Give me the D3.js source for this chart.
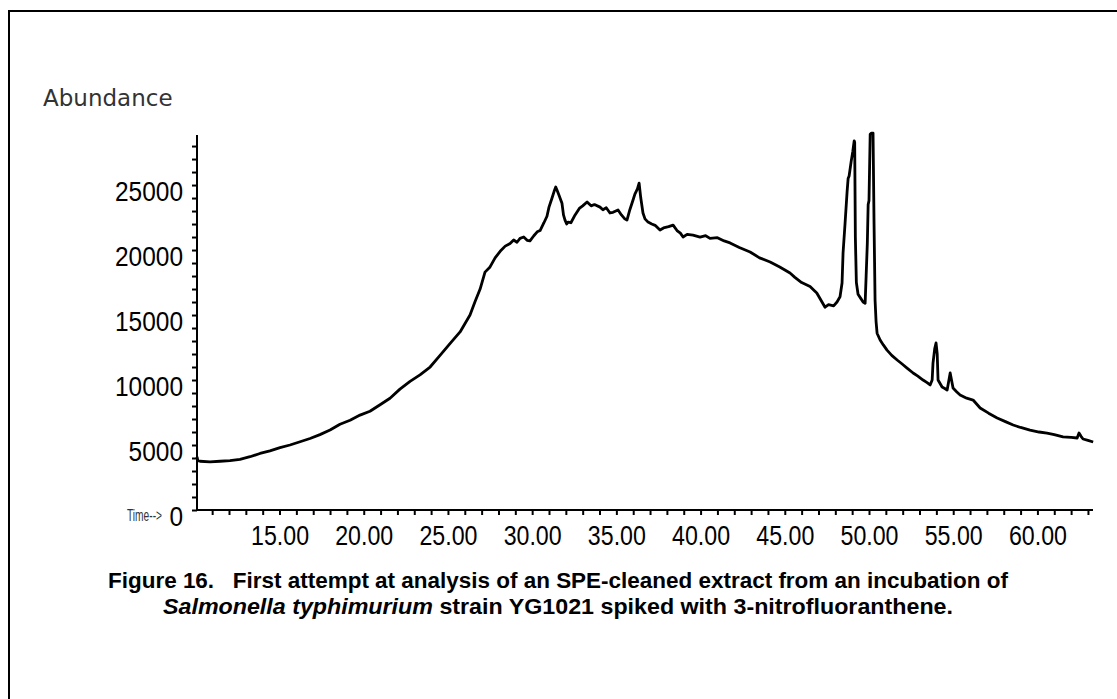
<!DOCTYPE html>
<html>
<head>
<meta charset="utf-8">
<script src="https://cdn.jsdelivr.net/npm/d3@7"></script>
<style>
  html, body { margin: 0; padding: 0; background: #fff; }
  svg { display: block; }
  .tick-label { font-family: "Liberation Sans", Arial, sans-serif; font-size: 27px; fill: #000; }
  .screen-label { font-family: "DejaVu Sans", sans-serif; font-size: 23px; fill: #333; }
  .caption { font-family: "Liberation Sans", Arial, sans-serif; font-size: 22px; font-weight: bold; fill: #000; white-space: pre; }
</style>
</head>
<body>
<script>
// Total ion chromatogram: retention time (min) vs abundance
const retentionTime = [
  10.10, 10.15, 10.28, 10.87, 11.47, 12.06, 12.65, 13.25, 13.84, 14.43,
  15.03, 15.62, 16.22, 16.81, 17.40, 18.00, 18.59, 19.19, 19.78, 20.37,
  20.97, 21.56, 22.15, 22.75, 23.34, 23.94, 24.53, 25.12, 25.72, 26.31,
  26.60, 26.91, 27.20, 27.50, 27.80, 28.10, 28.40, 28.69, 28.90, 29.10,
  29.28, 29.50, 29.70, 29.87, 30.10, 30.30, 30.47, 30.70, 30.88, 31.00,
  31.18, 31.30, 31.40, 31.48, 31.60, 31.77, 31.86, 31.95, 32.05, 32.13,
  32.30, 32.55, 32.80, 33.00, 33.26, 33.50, 33.70, 34.03, 34.20, 34.40,
  34.62, 34.80, 35.10, 35.30, 35.50, 35.63, 35.80, 35.99, 36.10, 36.25,
  36.35, 36.45, 36.58, 36.70, 36.88, 37.10, 37.30, 37.59, 37.80, 38.10,
  38.37, 38.60, 38.80, 38.96, 39.20, 39.55, 39.97, 40.30, 40.56, 41.00,
  41.40, 41.75, 42.30, 42.94, 43.50, 44.13, 44.70, 45.31, 45.60, 46.00,
  46.50, 46.90, 47.39, 47.60, 47.90, 48.10, 48.28, 48.40, 48.46, 48.58,
  48.70, 48.76, 48.82, 48.94, 49.04, 49.12, 49.15, 49.19, 49.25, 49.35,
  49.50, 49.65, 49.77, 49.83, 49.90, 49.95, 50.00, 50.07, 50.15, 50.24,
  50.30, 50.36, 50.42, 50.48, 50.66, 50.85, 51.07, 51.35, 51.67, 51.95,
  52.26, 52.62, 52.90, 53.21, 53.45, 53.63, 53.75, 53.80, 53.90, 53.98,
  54.05, 54.10, 54.34, 54.50, 54.64, 54.72, 54.82, 54.90, 54.99, 55.20,
  55.41, 55.80, 56.18, 56.60, 57.10, 57.61, 58.10, 58.56, 59.00, 59.56,
  60.10, 60.57, 61.00, 61.52, 62.00, 62.36, 62.47, 62.60, 62.71, 63.00,
  63.31
];
const abundance = [
  4100, 3800, 3750, 3700, 3750, 3800, 3900, 4100, 4350, 4550,
  4800, 5000, 5250, 5500, 5800, 6150, 6600, 6900, 7300, 7600,
  8100, 8600, 9300, 9900, 10400, 11000, 11900, 12800, 13700, 15000,
  16000, 17000, 18300, 18700, 19400, 19900, 20300, 20500, 20770, 20600,
  20900, 21000, 20750, 20700, 21100, 21400, 21500, 22100, 22600, 23300,
  24000, 24500, 24850, 24600, 24200, 23600, 22700, 22300, 22000, 22150,
  22100, 22700, 23200, 23400, 23700, 23400, 23500, 23300, 23100, 23250,
  22850, 22900, 23080, 22700, 22400, 22300, 23100, 23850, 24300, 24700,
  25150, 24000, 22850, 22400, 22150, 22000, 21900, 21540, 21700, 21800,
  21920, 21500, 21300, 21000, 21200, 21150, 21000, 21100, 20900, 20950,
  20700, 20550, 20200, 19850, 19400, 19080, 18700, 18230, 17900, 17500,
  17200, 16700, 15600, 15800, 15700, 16000, 16400, 17460, 19770, 22080,
  24500, 25500, 25700, 26800, 27600, 28400, 28300, 21000, 17500, 16600,
  16300, 16000, 15900, 18000, 20500, 23500, 23800, 28900, 29000, 29000,
  22000, 16150, 14500, 13600, 13080, 12700, 12300, 11900, 11540, 11250,
  10920, 10540, 10300, 10000, 9800, 9620, 10000, 11300, 12400, 12850,
  12000, 10000, 9460, 9350, 9230, 9800, 10540, 10000, 9380, 9100,
  8850, 8600, 8460, 7850, 7450, 7080, 6800, 6540, 6350, 6150,
  6000, 5920, 5800, 5620, 5580, 5540, 5920, 5650, 5460, 5350,
  5230
];

// Axis ticks
const yMajorTicks = [0, 5000, 10000, 15000, 20000, 25000];
const yMinorTicks = d3.range(0, 29000, 1000);
const xMajorTicks = [15, 20, 25, 30, 35, 40, 45, 50, 55, 60];
const xTickLabels = ["15.00", "20.00", "25.00", "30.00", "35.00", "40.00", "45.00", "50.00", "55.00", "60.00"];
const xMinorTicks = d3.range(11, 64, 1);

const captionLine1 = "Figure 16.   First attempt at analysis of an SPE-cleaned extract from an incubation of";
const captionItalic = "Salmonella typhimurium";
const captionRest = " strain YG1021 spiked with 3-nitrofluoranthene.";

const W = 1117, H = 699;
const svg = d3.select("body").append("svg").attr("width", W).attr("height", H);
svg.append("rect").attr("width", W).attr("height", H).attr("fill", "#fff");

// Page frame (runs off the right and bottom edges)
svg.append("rect")
  .attr("x", 9).attr("y", 11).attr("width", 1130).attr("height", 720)
  .attr("fill", "none").attr("stroke", "#000").attr("stroke-width", 2);

const plot = { left: 197, right: 1093, top: 135, bottom: 510 };
const x = d3.scaleLinear().domain([10.1, 63.3]).range([plot.left, plot.right]);
const y = d3.scaleLinear().domain([0, 28850]).range([plot.bottom, plot.top]);

// Y axis: minor ticks every 1000, labels every 5000 (narrow digits)
const yAxis = d3.axisLeft(y).tickValues(yMinorTicks).tickSize(5)
  .tickFormat(d => yMajorTicks.includes(d) ? String(d) : "");
const gy = svg.append("g").attr("transform", `translate(${plot.left},0)`).call(yAxis);
gy.select(".domain").attr("d", `M0,${plot.top}V${plot.bottom}`).attr("stroke-width", 2);
gy.selectAll(".tick line").attr("stroke-width", 2);
gy.selectAll(".tick text").filter(d => !yMajorTicks.includes(d)).remove();
gy.selectAll(".tick text")
  .attr("class", "tick-label").attr("font-family", null).attr("font-size", null)
  .attr("x", -14).attr("y", 15).attr("dy", null)
  .attr("textLength", d => String(d).length * 13.6).attr("lengthAdjust", "spacingAndGlyphs");

// X axis: minute ticks, labels every 5 min
const xAxis = d3.axisBottom(x).tickValues(xMinorTicks).tickSize(5)
  .tickFormat(d => { const i = xMajorTicks.indexOf(d); return i >= 0 ? xTickLabels[i] : ""; });
const gx = svg.append("g").attr("transform", `translate(0,${plot.bottom})`).call(xAxis);
gx.select(".domain").attr("d", `M${plot.left},0H${plot.right}`).attr("stroke-width", 2);
gx.selectAll(".tick line").attr("stroke-width", 2);
gx.selectAll(".tick text").filter(d => !xMajorTicks.includes(d)).remove();
gx.selectAll(".tick text")
  .attr("class", "tick-label").attr("font-family", null).attr("font-size", null)
  .attr("y", 35).attr("dy", null)
  .attr("textLength", 58).attr("lengthAdjust", "spacingAndGlyphs");
svg.selectAll(".domain").attr("fill", "none");

// Screen labels
svg.append("text").attr("class", "screen-label").attr("x", 43).attr("y", 106).text("Abundance");
svg.append("text").attr("class", "screen-label")
  .attr("transform", "translate(127,521) scale(0.6,1)")
  .style("font-size", "17px").style("font-family", "'Liberation Sans', Arial, sans-serif")
  .text("Time-->");

// Chromatogram trace
const line = d3.line().x((d, i) => x(retentionTime[i])).y(d => y(d));
svg.append("path").datum(abundance)
  .attr("d", line)
  .attr("fill", "none").attr("stroke", "#000").attr("stroke-width", 2.8)
  .attr("stroke-linejoin", "round");

// Caption
svg.append("text").attr("class", "caption").attr("x", 558).attr("y", 588)
  .attr("text-anchor", "middle").attr("textLength", 900).attr("lengthAdjust", "spacingAndGlyphs")
  .text(captionLine1);
const c2 = svg.append("text").attr("class", "caption").attr("x", 558).attr("y", 614)
  .attr("text-anchor", "middle").attr("textLength", 790).attr("lengthAdjust", "spacingAndGlyphs");
c2.append("tspan").style("font-style", "italic").text(captionItalic);
c2.append("tspan").text(captionRest);
</script>
</body>
</html>
